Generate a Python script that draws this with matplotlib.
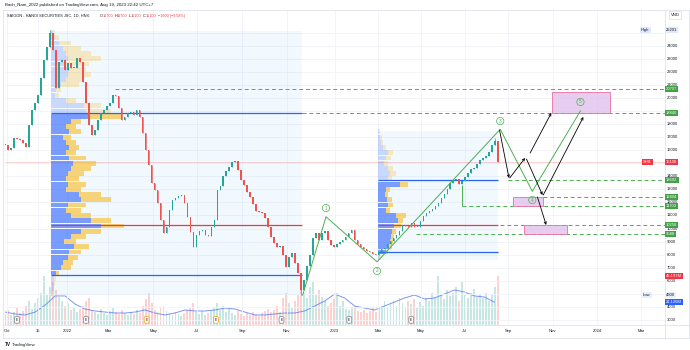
import numpy as np
import pandas as pd
import matplotlib
matplotlib.use("Agg")
import matplotlib.pyplot as plt
import matplotlib.dates as mdates
from matplotlib.patches import Rectangle
from matplotlib.transforms import blended_transform_factory as blend

plt.rcParams['font.family'] = ['Liberation Sans', 'DejaVu Sans']

# ---------------- data ----------------
bar_start, bar_end = "2021-10-11", "2023-08-18"
closes = [
    16400, 16000, 16150, 16950, 16850, 16750, 16550, 16250, 17900, 19050,
    19600, 20200, 21500, 22900, 23900, 25000, 23650, 20750, 22750, 22900,
    22150, 22650, 22300, 22300, 23050, 22750, 21200, 19600, 17900, 17150,
    17550, 18300, 18850, 19050, 19400, 19600, 20200, 20150, 19250, 18300,
    18550, 18850, 18900, 18700, 19050, 18550, 17300, 16000, 14850, 13500,
    12950, 11950, 10650, 9650, 10100, 11400, 12200, 12350, 12500, 12550,
    11950, 10900, 9750, 8600, 9500, 9800, 9900, 9500, 9400, 10100,
    10650, 12950, 13250, 14000, 14400, 14700, 15100, 15150, 14500, 13700,
    13350, 12800, 12400, 11850, 11350, 11250, 11200, 10800, 10100, 9350,
    8900, 8600, 8650, 7950, 7050, 7800, 8100, 7350, 6600, 5300,
    6050, 7100, 7950, 9250, 9650, 9100, 9650, 9800, 9100, 8750,
    8600, 8800, 8950, 9100, 9350, 9650, 9900, 9100, 8800, 8600,
    8450, 8250, 8200, 8050, 7950, 8200, 8450, 8500, 8800, 9050,
    9250, 9500, 9800, 10250, 10200, 10100, 10400, 10100, 10100, 10550,
    10950, 11200, 11350, 11500, 11700, 11950, 12350, 12650, 13000, 13500,
    13700, 13800, 13400, 13650, 13950, 14250, 14550, 14650, 14950, 15250,
    15400, 15550, 15850, 16400, 16700, 15100]
extreme_idx = [15, 99, 164]
extreme_val = [25201, 4900, 16900]
volumes = [  # millions
    10, 14, 9, 12, 16, 11, 13, 18, 22, 15,
    20, 25, 30, 45, 28, 35, 40, 32, 26, 22,
    18, 20, 14, 16, 12, 15, 18, 22, 25, 14,
    12, 10, 15, 11, 9, 13, 16, 12, 10, 14,
    11, 9, 12, 10, 14, 11, 18, 24, 30, 20,
    14, 12, 16, 18, 13, 11, 9, 12, 10, 8,
    11, 14, 16, 20, 12, 10, 13, 9, 11, 14,
    16, 20, 14, 18, 12, 15, 11, 9, 13, 10,
    8, 11, 9, 12, 10, 8, 11, 13, 15, 12,
    14, 18, 12, 25, 30, 20, 16, 22, 28, 35,
    30, 25, 35, 40, 28, 32, 26, 22, 18, 20,
    24, 30, 18, 22, 15, 14, 16, 18, 13, 12,
    14, 11, 13, 16, 12, 15, 18, 22, 17, 20,
    22, 18, 25, 20, 16, 22, 19, 24, 17, 21,
    18, 25, 22, 30, 26, 45, 28, 24, 32, 27,
    30, 35, 22, 40, 28, 25, 30, 33, 26, 29,
    25, 30, 22, 28, 35, 45.197]
ma_start, ma_end = "2021-10-11", "2023-08-13"
vol_ma = [12.0, 10.2, 9.3, 12.0, 18.5, 26.9, 26.9, 19.4, 14.8, 13.0,
          12.0, 11.1, 11.1, 12.0, 13.9, 11.1, 9.3, 11.1, 13.9, 13.0,
          13.0, 13.9, 15.7, 14.8, 12.0, 9.3, 9.3, 10.2, 11.1, 11.1,
          13.0, 17.6, 22.2, 28.7, 25.0, 17.6, 15.7, 13.9, 17.6, 21.3,
          25.0, 27.8, 24.1, 25.0, 28.7, 32.4, 30.6, 26.9, 25.9, 21.126]

profile_top, profile_step = 25000, 400
left_up = [2, 4, 8, 12, 15, 17, 15, 17, 17, 15, 10, 5, 4, 15, 33, 35, 37, 20, 15, 18,
           12, 15, 18, 15, 18, 22, 20, 17, 15, 17, 15, 28, 30, 17, 15, 20, 40, 50, 30, 20,
           13, 23, 18, 17, 12, 10, 5, 3, 2, 2, 1]
left_down = [2, 4, 12, 18, 25, 33, 23, 18, 23, 18, 18, 5, 4, 10, 17, 25, 33, 10, 10, 12,
             8, 10, 10, 10, 17, 23, 20, 16, 13, 18, 15, 22, 30, 18, 15, 20, 20, 23, 20, 15,
             12, 15, 12, 10, 10, 10, 3, 2, 2, 1, 1]
left_prof_start, left_prof_end = "2021-12-13", "2022-11-22"
left_vah, left_poc, left_val = 18840, 10300, 6450
left_box = (4900, 25120)

right_top_bin = 17400
right_up = [1, 2, 3, 5, 10, 8, 6, 10, 12, 10, 22, 8, 7, 9, 10, 8, 18, 20, 16, 14, 13, 12, 11, 8, 2]
right_down = [1, 2, 2, 3, 5, 5, 4, 5, 6, 4, 8, 4, 3, 5, 5, 4, 10, 5, 7, 4, 3, 3, 3, 2, 1]
right_prof_start, right_prof_end = "2023-03-06", "2023-08-18"
right_vah, right_poc, right_val = 13692, 10258, 8200
right_box = (7590, 17470)

wave_dates = ["2022-11-23", "2022-12-25", "2023-03-05", "2023-08-21", "2023-10-04", "2023-12-09"]
wave_prices = [4900, 10900, 7450, 17600, 12850, 19000]
wave_labels = ["1", "2", "3", "4", "5"]
wave_label_prices = [11570, 6750, 18230, 12180, 19690]

levels = [20707, 18840, 13692, 12404, 11703, 10258, 9588]
level_starts = ["2022-03-10", "2022-11-22", "2023-08-31", "2023-10-19",
                "2023-06-29", "2023-08-20", "2023-04-28"]

zones = [("2023-10-31", "2024-01-18", 18840, 20450),
         ("2023-09-07", "2023-10-19", 11703, 12404),
         ("2023-09-22", "2023-11-21", 9588, 10258)]

arrows = [("2023-08-20", 17544, "2023-09-02", 13869),
          ("2023-09-03", 13869, "2023-09-24", 15400),
          ("2023-10-01", 15783, "2023-10-30", 18846),
          ("2023-09-26", 15323, "2023-10-18", 12567),
          ("2023-10-19", 12567, "2023-12-13", 18539),
          ("2023-10-11", 12414, "2023-10-23", 10270)]

earnings = ["2021-10-27", "2022-01-30", "2022-04-23", "2022-07-27",
            "2022-10-25", "2023-01-26", "2023-04-21"]
earnings_hi = [False, False, True, True, False, False, False]

xtick_labels = ["Oct", "15", "2022", "Mar", "May", "Jul", "Sep", "Nov", "2023",
                "Mar", "May", "Jul", "Sep", "Nov", "2024", "Mar"]
xtick_dates = ["2021-10-14", "2021-11-25", "2022-01-04", "2022-03-01", "2022-05-02",
               "2022-07-01", "2022-09-01", "2022-11-01", "2023-01-06", "2023-03-06",
               "2023-05-04", "2023-07-03", "2023-09-01", "2023-11-01", "2024-01-01",
               "2024-03-01"]
price_ticks = [3000, 4000, 6000, 7000, 8000, 9000, 10000, 11000, 12000, 13000, 14000,
               16000, 17000, 18000, 20000, 21000, 22000, 23000, 24000]

last_price, high_price, low_price = 15100, 25201, 4900
vol_last, vol_ma_last = 45.197, 21.126

# ---------------- figure ----------------
W, H = 690, 350
fig = plt.figure(figsize=(6.9, 3.5), dpi=100)
fig.patch.set_facecolor('white')
L, R, T, B = 5, 665, 10, 325
ax = fig.add_axes([L / W, 1 - B / H, (R - L) / W, (B - T) / H])
ax2 = ax.twinx()
ax.set_zorder(ax2.get_zorder() + 1)
ax.patch.set_visible(False)

def dn(s):
    return mdates.date2num(pd.Timestamp(s))

x0 = dn("2022-01-01")
xmin, xmax = x0 - 82.3, x0 + 823.0
ax.set_xlim(xmin, xmax)
ax.set_ylim(2613, 26732)
ax2.set_ylim(0, 291.7)
for a in (ax, ax2):
    a.set_xticks([])
    a.set_yticks([])
    for s in a.spines.values():
        s.set_visible(False)
ax2.set_xlim(xmin, xmax)

GREEN, RED = '#26a69a', '#ef5350'
grid_c = '#f0f3fa'
for p in price_ticks + [5000, 15000, 19000, 25000]:
    ax.axhline(p, color=grid_c, lw=0.6, zorder=0)
for d in xtick_dates:
    ax.axvline(dn(d), color=grid_c, lw=0.6, zorder=0)

# bars
dates = pd.date_range(bar_start, bar_end, periods=len(closes))
xd = mdates.date2num(dates)
c = np.array(closes, float)
o = np.r_[c[0], c[:-1]]
up = c >= o
cols = np.where(up, GREEN, RED)
ax.vlines(xd, np.minimum(o, c), np.maximum(o, c), color=cols, lw=0.5, zorder=4)
ax.bar(xd, np.maximum(np.abs(c - o), 60), bottom=np.minimum(o, c), width=2.1,
       color=cols, zorder=4, linewidth=0)
for i, v in zip(extreme_idx, extreme_val):
    ax.vlines(xd[i], min(v, o[i], c[i]), max(v, o[i], c[i]), color=cols[i], lw=0.5, zorder=4)
ax2.bar(xd, volumes, width=2.6, color=cols, alpha=0.26, linewidth=0, zorder=1)
ma_dates = mdates.date2num(pd.date_range(ma_start, ma_end, periods=len(vol_ma)))
ax2.plot(ma_dates, vol_ma, color='#5b7cf5', lw=0.7, alpha=0.8, zorder=2)

# volume profiles
prof_scale = 1 / 0.729  # days per unit
BLUE_VA, BLUE_OUT = (0.16, 0.38, 1.0, 0.6), (0.16, 0.38, 1.0, 0.2)
YEL_VA, YEL_OUT = (0.98, 0.73, 0.12, 0.6), (0.98, 0.73, 0.12, 0.26)

def draw_profile(top_center, ups, downs, start, end, vah, poc, val, box):
    s, e = dn(start), dn(end)
    ax.add_patch(Rectangle((s, box[0]), e - s, box[1] - box[0], fc=(0.13, 0.59, 0.95, 0.06),
                           ec='none', zorder=1))
    centers = top_center - profile_step * np.arange(len(ups))
    inva = (centers <= vah) & (centers >= val)
    u = np.array(ups) * prof_scale
    dwn = np.array(downs) * prof_scale
    ax.barh(centers, u, left=s, height=profile_step * 0.92, linewidth=0, zorder=2,
            color=[BLUE_VA if f else BLUE_OUT for f in inva])
    ax.barh(centers, dwn, left=s + u, height=profile_step * 0.92, linewidth=0, zorder=2,
            color=[YEL_VA if f else YEL_OUT for f in inva])
    ax.hlines([vah, val], s, e, color='#2962ff', lw=0.9, zorder=3)
    ax.hlines(poc, s, e, color='#f23645', lw=0.9, zorder=3)

draw_profile(profile_top, left_up, left_down, left_prof_start, left_prof_end,
             left_vah, left_poc, left_val, left_box)
draw_profile(right_top_bin, right_up, right_down, right_prof_start, right_prof_end,
             right_vah, right_poc, right_val, right_box)

# last price line
ax.axhline(last_price, color=RED, lw=0.5, alpha=0.35, zorder=1)

# levels
LG = '#4caf50'
for lv, st in zip(levels, level_starts):
    ax.hlines(lv, dn(st), xmax, color=LG, lw=0.7, linestyles=(0, (4, 3)), zorder=3)
ax.vlines(dn("2023-06-29"), 11703, 13300, color=LG, lw=0.7, zorder=3)

# zones
for s, e, lo, hi in zones:
    ax.add_patch(Rectangle((dn(s), lo), dn(e) - dn(s), hi - lo, fc=(0.88, 0.74, 0.92, 0.75),
                           ec='#ec6fa0', lw=0.6, zorder=3))

# waves
wx = [dn(d) for d in wave_dates]
ax.plot(wx, wave_prices, color=LG, lw=0.7, zorder=5)
for lab, d, p in zip(wave_labels, wave_dates[1:], wave_label_prices):
    ax.text(dn(d), p, lab, ha='center', va='center', fontsize=3.3, color=LG, zorder=6,
            bbox=dict(boxstyle='circle,pad=0.25', fc='none', ec=LG, lw=0.5))

# arrows
for d0, p0, d1, p1 in arrows:
    ax.annotate('', xy=(dn(d1), p1), xytext=(dn(d0), p0), zorder=6,
                arrowprops=dict(arrowstyle='->', color='black', lw=0.6,
                                mutation_scale=4, shrinkA=0, shrinkB=0))

# earnings markers
tr_e = blend(ax.transData, ax.transAxes)
for d, hi in zip(earnings, earnings_hi):
    ax.text(dn(d), 0.016, 'E', transform=tr_e, ha='center', va='center', fontsize=2.6,
            color='#131722', zorder=7,
            bbox=dict(boxstyle='round,pad=0.35', fc='white', ec='#ff9800' if hi else '#787b86',
                      lw=0.5))

# frame lines
def fline(x_a, y_a, x_b, y_b, c='#e0e3eb', lw=0.6):
    fig.add_artist(plt.Line2D([x_a / W, x_b / W], [1 - y_a / H, 1 - y_b / H],
                              color=c, lw=lw, transform=fig.transFigure))

fline(3, 10, 689, 10)
fline(3, 10, 3, 338)
fline(689, 10, 689, 338)
fline(3, 338, 689, 338)
fline(3, 325, 689, 325)
fline(665, 10, 665, 338)

# price axis labels
trp = blend(fig.transFigure, ax.transData)
trv = blend(fig.transFigure, ax2.transData)
FS = 3.0
for p in price_ticks:
    fig.text(667 / W, p, f"{p}", transform=trp, fontsize=FS, color='#131722',
             ha='left', va='center')

def tag(y, s, fc, tc='white', tr=trp, x=666, fs=FS):
    fig.text(x / W, y, s, transform=tr, fontsize=fs, color=tc, ha='left', va='center',
             zorder=10, bbox=dict(boxstyle='square,pad=0.28', fc=fc, ec='none'))

for lv in levels:
    tag(lv, f"{lv}", '#43a047')
tag(last_price, f"{last_price}", '#f23645')
tag(last_price, "SHS", '#f23645', x=643)
tag(high_price, f"{high_price}", '#dfe9fb', tc='#131722')
tag(high_price, "High", '#dfe9fb', tc='#131722', x=641)
tag(low_price, f"{low_price}", '#e8eefa', tc='#131722')
tag(low_price, "Low", '#e8eefa', tc='#131722', x=643)
tag(vol_last, f"{vol_last:.3f}M", '#f23645', tr=trv)
tag(vol_ma_last, f"{vol_ma_last:.3f}M", '#2962ff', tr=trv)
fig.text(675 / W, 1 - 15 / H, "VND", fontsize=FS, color='#131722', ha='center',
         va='center', bbox=dict(boxstyle='square,pad=0.4', fc='white', ec='#d1d4dc', lw=0.4))

# x-axis labels
for lab, d in zip(xtick_labels, xtick_dates):
    xf = (L + (dn(d) - xmin) / (xmax - xmin) * (R - L)) / W
    fig.text(xf, 1 - 331 / H, lab, fontsize=FS, color='#131722', ha='center', va='center')

# header
fig.text(5 / W, 1 - 5 / H, "Bach_Nam_2022 published on TradingView.com, Aug 19, 2023 22:42 UTC+7",
         fontsize=3.2, color='#131722', ha='left', va='center')
hdr_y = 1 - 16 / H
fig.text(7 / W, hdr_y, "SAIGON - HANOI SECURITIES JSC, 1D, HNX:", fontsize=2.8,
         color='#131722', ha='left', va='center')
pieces = [(100, "O", '#131722'), (102.5, "16700", '#f23645'), (114.5, "H", '#131722'),
          (117, "16700", '#f23645'), (129, "L", '#131722'), (131, "15100", '#f23645'),
          (143, "C", '#131722'), (145.5, "15100", '#f23645'),
          (158, "\u22121600 (\u22129.58%)", '#f23645')]
for xp, s, cl in pieces:
    fig.text(xp / W, hdr_y, s, fontsize=2.7, color=cl, ha='left', va='center')

fig.text(5 / W, 1 - 345 / H, "TV", fontsize=3.4, color='#131722', ha='left', va='center',
         fontweight='bold')
fig.text(12 / W, 1 - 345 / H, "TradingView", fontsize=3.2, color='#131722', ha='left',
         va='center')

fig.savefig("out.png", dpi=100, facecolor='white')
